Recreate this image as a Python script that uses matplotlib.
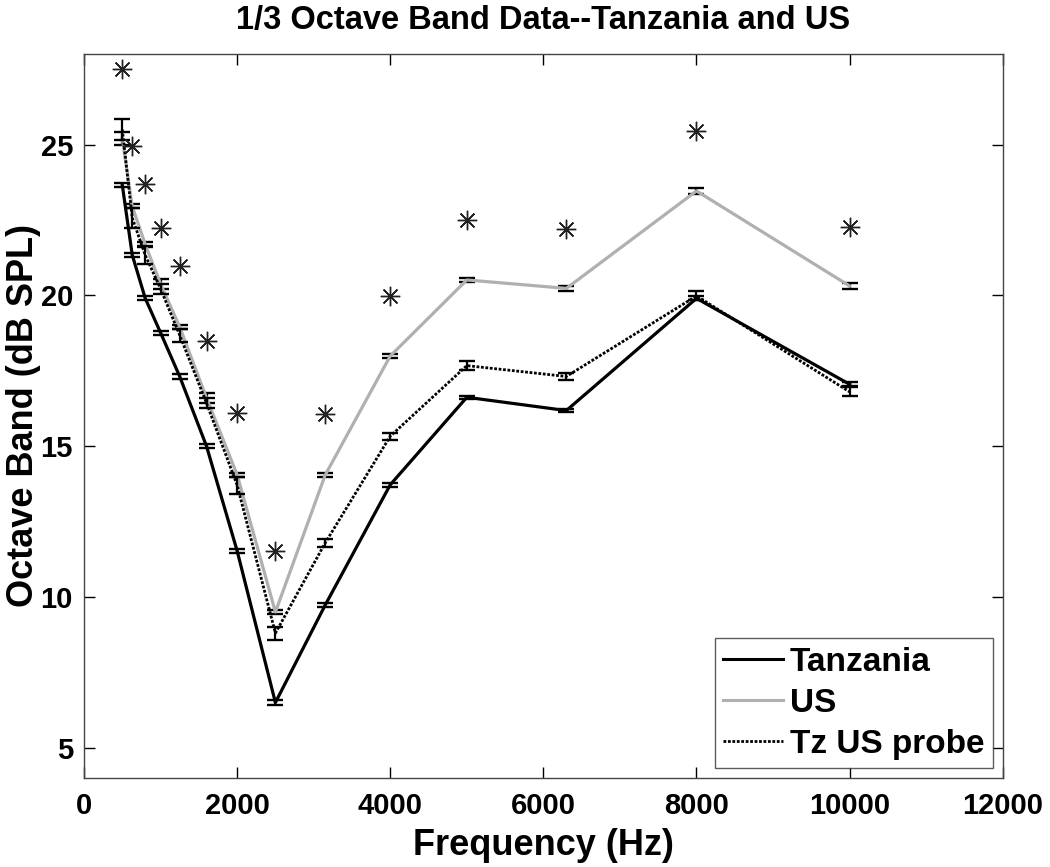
import matplotlib
matplotlib.use("Agg")
import matplotlib.pyplot as plt

# ---- data ----
freq = [500, 630, 800, 1000, 1250, 1600, 2000, 2500, 3150, 4000, 5000, 6300, 8000, 10000]

tanzania = [23.66, 21.34, 19.90, 18.76, 17.31, 15.00, 11.53, 6.50, 9.73, 13.72, 16.62, 16.18, 19.90, 17.05]
tanzania_err = [0.07, 0.07, 0.07, 0.07, 0.07, 0.07, 0.07, 0.08, 0.07, 0.06, 0.05, 0.05, 0.07, 0.07]

us = [25.20, 22.95, 21.69, 20.38, 18.95, 16.60, 14.05, 9.50, 14.04, 17.99, 20.51, 20.23, 23.46, 20.31]
us_err = [0.20, 0.07, 0.08, 0.16, 0.07, 0.16, 0.07, 0.07, 0.06, 0.06, 0.08, 0.08, 0.09, 0.09]

probe = [25.50, 22.57, 21.33, 20.22, 18.68, 16.43, 13.71, 8.80, 11.79, 15.33, 17.67, 17.31, 19.98, 16.80]
probe_err = [0.35, 0.33, 0.29, 0.16, 0.22, 0.16, 0.28, 0.22, 0.14, 0.12, 0.14, 0.11, 0.15, 0.15]

stars = [27.51, 24.94, 23.69, 22.24, 20.96, 18.47, 16.10, 11.53, 16.05, 19.97, 22.50, 22.21, 25.45, 22.27]

series_labels = ["Tanzania", "US", "Tz US probe"]
title = "1/3 Octave Band Data--Tanzania and US"
xlabel = "Frequency (Hz)"
ylabel = "Octave Band (dB SPL)"
xticks = [0, 2000, 4000, 6000, 8000, 10000, 12000]
yticks = [5, 10, 15, 20, 25]

plt.rcParams['font.family'] = ['Liberation Sans', 'DejaVu Sans']

fig = plt.figure(figsize=(10.5, 8.67), dpi=100)
ax = fig.add_axes([0.080, 0.1027, 0.875, 0.835])

err_kw = dict(ecolor='black', elinewidth=1.6, capsize=6, capthick=1.7)

ax.errorbar(freq, tanzania, yerr=tanzania_err, color='black', lw=2.3,
            label=series_labels[0], zorder=3, **err_kw)
ax.errorbar(freq, us, yerr=us_err, color='#b0b0b0', lw=2.3,
            label=series_labels[1], zorder=2, **err_kw)
ax.errorbar(freq, probe, yerr=probe_err, color='black', lw=2.0, ls=(0, (1, 0.6)),
            label=series_labels[2], zorder=4, **err_kw)
ax.plot(freq, stars, ls='none', marker=(8, 2, 0), ms=14, mew=1.0,
        color='#222222', zorder=5)
ax.plot(freq, stars, ls='none', marker='o', ms=2.5, color='#222222', zorder=5)

ax.set_xlim(0, 12000)
ax.set_ylim(4, 28)
ax.set_xticks(xticks)
ax.set_yticks(yticks)
ax.tick_params(direction='in', length=8, width=1, top=True, right=True,
               labelsize=21, pad=8)
ax.tick_params(axis='x', pad=10)
for lab in ax.get_xticklabels() + ax.get_yticklabels():
    lab.set_fontweight('bold')
for s in ax.spines.values():
    s.set_linewidth(1.0)
    s.set_color('#444444')

ax.set_title(title, fontsize=23.5, fontweight='bold', pad=18)
ax.set_xlabel(xlabel, fontsize=26, fontweight='bold', labelpad=6)
ax.set_ylabel(ylabel, fontsize=26, fontweight='bold', labelpad=0)

handles = [plt.Line2D([], [], color='black', lw=2.2),
           plt.Line2D([], [], color='#b0b0b0', lw=2.2),
           plt.Line2D([], [], color='black', lw=2.0, ls=(0, (1, 0.6)))]
leg = ax.legend(handles, series_labels, loc='lower right',
                prop={'weight': 'bold', 'size': 24}, frameon=True, fancybox=False,
                edgecolor='#333333', handlelength=1.8, handletextpad=0.2,
                labelspacing=0.3, borderpad=0.25, borderaxespad=0,
                bbox_to_anchor=(0.989, 0.0138))
leg.get_frame().set_linewidth(1.0)

fig.savefig("out.png", dpi=100)
